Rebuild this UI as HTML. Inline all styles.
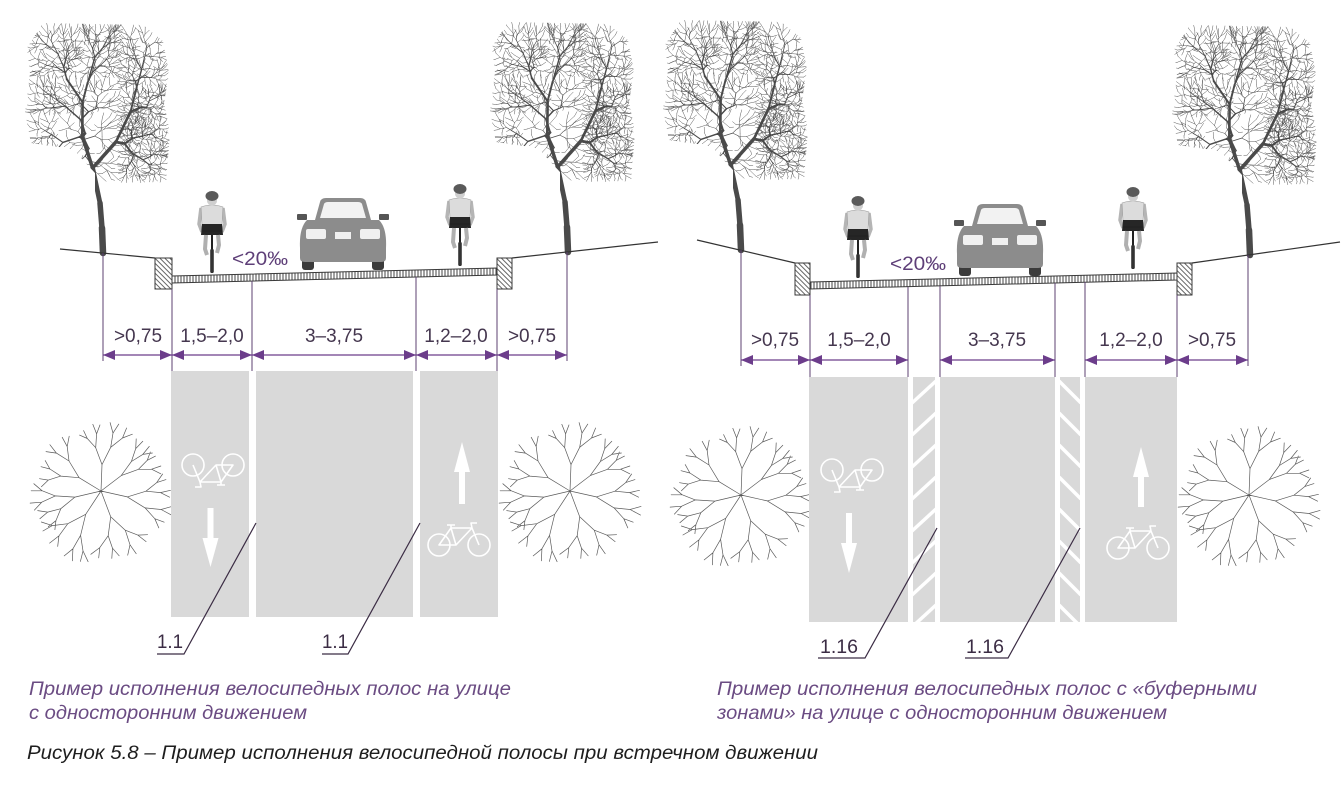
<!DOCTYPE html>
<html><head><meta charset="utf-8">
<style>
html,body{margin:0;padding:0;background:#fff;}
svg{display:block;}
.dim{font-family:"Liberation Sans",sans-serif;font-size:19px;fill:#45374f;}
.pct{font-family:"Liberation Sans",sans-serif;font-size:19px;fill:#5e3f78;}
.lbl{font-family:"Liberation Sans",sans-serif;font-size:19px;fill:#3b2c44;}
.cap{font-family:"Liberation Sans",sans-serif;font-style:italic;font-size:19px;fill:#6b4c83;}
.fig{font-family:"Liberation Sans",sans-serif;font-style:italic;font-size:19px;fill:#1e1e1e;}
</style></head><body>
<svg width="1341" height="793" viewBox="0 0 1341 793" xmlns="http://www.w3.org/2000/svg">
<defs>
<pattern id="ticks" patternUnits="userSpaceOnUse" width="3" height="10"><rect width="3" height="10" fill="#fff"/><line x1="1" y1="0" x2="1" y2="10" stroke="#444" stroke-width="1"/></pattern>
<pattern id="hatch" patternUnits="userSpaceOnUse" width="3.5" height="3.5" patternTransform="rotate(-45)"><rect width="3.5" height="3.5" fill="#fff"/><line x1="0.5" y1="0" x2="0.5" y2="3.5" stroke="#555" stroke-width="0.9"/></pattern>
<clipPath id="tc"><polygon points="-60,-230 40,-228 60,-212 66,-180 61,-150 67,-120 63,-70 30,-68 6,-60 6,10 -8,10 -8,-80 -30,-104 -72,-110 -78,-140 -73,-180 -76,-205"/></clipPath>
<g id="tree" clip-path="url(#tc)" fill="none" stroke="#4a4a4a" stroke-linecap="round"></g>
<g id="ptree" fill="none" stroke="#5a5a5a" stroke-width="0.7" stroke-linecap="round"></g>
<g id="bike" fill="none" stroke="#fff" stroke-width="1.6" stroke-linejoin="round">
<circle cx="0" cy="0" r="11"/><circle cx="40" cy="0" r="11"/>
<path d="M0 0 L17 0 L12 -17 Z M12 -17 L33 -17 L17 0 M33 -17 L40 0 M8 -20 L16 -20 M12 -17 L12 -20 M33 -17 L32 -22 L38 -22"/>
</g>
<g id="car">
<path d="M-28 22 L-23 4 Q-22 0 -17 0 L17 0 Q22 0 23 4 L28 22 Z" fill="#8c8c8c"/>
<path d="M-23 20 L-19 6 Q-18 4 -15 4 L15 4 Q18 4 19 6 L23 20 Z" fill="#f2f2f2"/>
<rect x="-46" y="16" width="10" height="6" rx="1" fill="#555"/>
<rect x="36" y="16" width="10" height="6" rx="1" fill="#555"/>
<rect x="-41" y="47" width="12" height="25" rx="3" fill="#3b3b3b"/>
<rect x="29" y="47" width="12" height="25" rx="3" fill="#3b3b3b"/>
<path d="M-43 50 Q-44 30 -36 22 L36 22 Q44 30 43 50 L43 60 Q43 64 38 64 L-38 64 Q-43 64 -43 60 Z" fill="#8c8c8c"/>
<rect x="-37" y="31" width="20" height="10" rx="2" fill="#f0f0f0"/>
<rect x="17" y="31" width="20" height="10" rx="2" fill="#f0f0f0"/>
<rect x="-8" y="34" width="16" height="7" fill="#f0f0f0"/>
</g>
<g id="cyc">
<line x1="0" y1="38" x2="0" y2="82" stroke="#222" stroke-width="2"/>
<rect x="-1.8" y="58" width="3.6" height="24" rx="1.5" fill="#333"/>
<path d="M-11 17 L-13 33 L-10 41" stroke="#b5b5b5" stroke-width="3.5" fill="none"/>
<path d="M11 17 L13 33 L10 41" stroke="#b5b5b5" stroke-width="3.5" fill="none"/>
<path d="M-11 16 Q0 12 11 16 L10 34 L-10 34 Z" fill="#dcdcdc" stroke="#9a9a9a" stroke-width="0.6"/>
<path d="M-10 33 L10 33 L11 44 L-11 44 Z" fill="#262626"/>
<path d="M-6 44 L-7 58 L-5 64" stroke="#b0b0b0" stroke-width="4" fill="none"/>
<path d="M6 44 L7 54 L5 62" stroke="#b0b0b0" stroke-width="4" fill="none"/>
<line x1="-10" y1="40" x2="10" y2="40" stroke="#222" stroke-width="1.5"/>
<ellipse cx="0" cy="10" rx="5" ry="4.5" fill="#cfcfcf"/>
<ellipse cx="0" cy="5" rx="6.5" ry="5" fill="#5a5a5a"/>
</g>
</defs>

<!-- ===== LEFT DIAGRAM ===== -->
<use href="#tree" transform="translate(103,253)"/>
<use href="#tree" transform="translate(568,252)"/>
<polyline points="60,249 155,258" fill="none" stroke="#333" stroke-width="1.2"/>
<polyline points="512,258 658,242" fill="none" stroke="#333" stroke-width="1.2"/>
<rect x="155" y="258" width="17" height="31" fill="url(#hatch)" stroke="#3a3a3a" stroke-width="1"/>
<rect x="497" y="258" width="15" height="31" fill="url(#hatch)" stroke="#3a3a3a" stroke-width="1"/>
<polygon points="172,276 497,268 497,275 172,283" fill="url(#ticks)" stroke="#3a3a3a" stroke-width="1"/>
<use href="#car" transform="translate(343,198)"/>
<use href="#cyc" transform="translate(212,191)"/>
<use href="#cyc" transform="translate(460,184)"/>
<text class="pct" x="232" y="265" textLength="56" lengthAdjust="spacingAndGlyphs">&lt;20‰</text>

<g stroke="#5c4070" stroke-width="1">
<line x1="103" y1="253" x2="103" y2="361"/>
<line x1="172" y1="289" x2="172" y2="371"/>
<line x1="252" y1="281" x2="252" y2="371"/>
<line x1="416" y1="277" x2="416" y2="371"/>
<line x1="497" y1="289" x2="497" y2="371"/>
<line x1="567" y1="252" x2="567" y2="361"/>
<line x1="103" y1="355" x2="567" y2="355" stroke="#6c3d8b" stroke-width="1.2"/>
</g>
<g fill="#6c3d8b">
<polygon points="103,355 115,350 115,360"/><polygon points="172,355 160,350 160,360"/>
<polygon points="172,355 184,350 184,360"/><polygon points="252,355 240,350 240,360"/>
<polygon points="252,355 264,350 264,360"/><polygon points="416,355 404,350 404,360"/>
<polygon points="416,355 428,350 428,360"/><polygon points="497,355 485,350 485,360"/>
<polygon points="497,355 509,350 509,360"/><polygon points="567,355 555,350 555,360"/>
</g>
<g class="dim" text-anchor="middle">
<text x="138" y="342">&gt;0,75</text>
<text x="212" y="342">1,5–2,0</text>
<text x="334" y="342">3–3,75</text>
<text x="456" y="342">1,2–2,0</text>
<text x="532" y="342">&gt;0,75</text>
</g>

<use href="#ptree" transform="translate(101,491)"/>
<use href="#ptree" transform="translate(570,491)"/>
<g fill="#d9d9d9">
<rect x="171" y="371" width="78" height="246"/>
<rect x="256" y="371" width="157" height="246"/>
<rect x="420" y="371" width="78" height="246"/>
</g>
<use href="#bike" transform="translate(233,465) rotate(180)"/>
<use href="#bike" transform="translate(439,545)"/>
<g fill="#fff">
<polygon points="207.5,508 213.5,508 213.5,538 218.5,538 210.5,567 202.5,538 207.5,538"/>
<polygon points="462,442 470,472 465,472 465,504 459,504 459,472 454,472"/>
</g>
<g stroke="#3b2c44" stroke-width="1.2" fill="none">
<polyline points="157,654 184,654 256,523"/>
<polyline points="322,654 348,654 420,523"/>
</g>
<text class="lbl" x="157" y="648" textLength="26" lengthAdjust="spacingAndGlyphs">1.1</text>
<text class="lbl" x="322" y="648" textLength="26" lengthAdjust="spacingAndGlyphs">1.1</text>

<!-- ===== RIGHT DIAGRAM ===== -->
<use href="#tree" transform="translate(741,250)"/>
<use href="#tree" transform="translate(1250,255)"/>
<polyline points="697,240 795,263" fill="none" stroke="#333" stroke-width="1.2"/>
<polyline points="1192,263 1340,242" fill="none" stroke="#333" stroke-width="1.2"/>
<rect x="795" y="263" width="15" height="32" fill="url(#hatch)" stroke="#3a3a3a" stroke-width="1"/>
<rect x="1177" y="263" width="15" height="32" fill="url(#hatch)" stroke="#3a3a3a" stroke-width="1"/>
<polygon points="810,282 1177,273 1177,280 810,289" fill="url(#ticks)" stroke="#3a3a3a" stroke-width="1"/>
<use href="#car" transform="translate(1000,204)"/>
<use href="#cyc" transform="translate(858,196)"/>
<use href="#cyc" transform="translate(1133,187)"/>
<text class="pct" x="890" y="270" textLength="56" lengthAdjust="spacingAndGlyphs">&lt;20‰</text>

<g stroke="#5c4070" stroke-width="1">
<line x1="741" y1="250" x2="741" y2="366"/>
<line x1="810" y1="295" x2="810" y2="377"/>
<line x1="908" y1="287" x2="908" y2="377"/>
<line x1="940" y1="286" x2="940" y2="377"/>
<line x1="1055" y1="283" x2="1055" y2="377"/>
<line x1="1085" y1="282" x2="1085" y2="377"/>
<line x1="1177" y1="295" x2="1177" y2="377"/>
<line x1="1248" y1="255" x2="1248" y2="366"/>
</g>
<g stroke="#6c3d8b" stroke-width="1.2">
<line x1="741" y1="360" x2="908" y2="360"/>
<line x1="940" y1="360" x2="1055" y2="360"/>
<line x1="1085" y1="360" x2="1248" y2="360"/>
</g>
<g fill="#6c3d8b">
<polygon points="741,360 753,355 753,365"/><polygon points="810,360 798,355 798,365"/>
<polygon points="810,360 822,355 822,365"/><polygon points="908,360 896,355 896,365"/>
<polygon points="940,360 952,355 952,365"/><polygon points="1055,360 1043,355 1043,365"/>
<polygon points="1085,360 1097,355 1097,365"/><polygon points="1177,360 1165,355 1165,365"/>
<polygon points="1177,360 1189,355 1189,365"/><polygon points="1248,360 1236,355 1236,365"/>
</g>
<g class="dim" text-anchor="middle">
<text x="775" y="346">&gt;0,75</text>
<text x="859" y="346">1,5–2,0</text>
<text x="997" y="346">3–3,75</text>
<text x="1131" y="346">1,2–2,0</text>
<text x="1212" y="346">&gt;0,75</text>
</g>

<use href="#ptree" transform="translate(741,495)"/>
<use href="#ptree" transform="translate(1249,495)"/>
<g fill="#d9d9d9">
<rect x="809" y="377" width="99" height="245"/>
<rect x="908" y="377" width="32" height="245"/>
<rect x="940" y="377" width="115" height="245"/>
<rect x="1055" y="377" width="30" height="245"/>
<rect x="1085" y="377" width="92" height="245"/>
</g>
<clipPath id="b1"><rect x="908" y="377" width="32" height="245"/></clipPath>
<clipPath id="b2"><rect x="1055" y="377" width="30" height="245"/></clipPath>
<g fill="#fff">
<rect x="908" y="377" width="5" height="245"/>
<rect x="935" y="377" width="5" height="245"/>
<rect x="1055" y="377" width="5" height="245"/>
<rect x="1080" y="377" width="5" height="245"/>
</g>
<g stroke="#fff" stroke-width="3.5" clip-path="url(#b1)">
<line x1="912" y1="403" x2="936" y2="381"/>
<line x1="912" y1="435" x2="936" y2="413"/>
<line x1="912" y1="467" x2="936" y2="445"/>
<line x1="912" y1="499" x2="936" y2="477"/>
<line x1="912" y1="531" x2="936" y2="509"/>
<line x1="912" y1="563" x2="936" y2="541"/>
<line x1="912" y1="595" x2="936" y2="573"/>
<line x1="912" y1="627" x2="936" y2="605"/>
</g>
<g stroke="#fff" stroke-width="3.5" clip-path="url(#b2)">
<line x1="1059" y1="381" x2="1081" y2="403"/>
<line x1="1059" y1="413" x2="1081" y2="435"/>
<line x1="1059" y1="445" x2="1081" y2="467"/>
<line x1="1059" y1="477" x2="1081" y2="499"/>
<line x1="1059" y1="509" x2="1081" y2="531"/>
<line x1="1059" y1="541" x2="1081" y2="563"/>
<line x1="1059" y1="573" x2="1081" y2="595"/>
<line x1="1059" y1="605" x2="1081" y2="627"/>
</g>
<use href="#bike" transform="translate(872,470) rotate(180)"/>
<use href="#bike" transform="translate(1118,548)"/>
<g fill="#fff">
<polygon points="846,513 852,513 852,543 857,543 849,573 841,543 846,543"/>
<polygon points="1141,447 1149,477 1144,477 1144,507 1138,507 1138,477 1133,477"/>
</g>
<g stroke="#3b2c44" stroke-width="1.2" fill="none">
<polyline points="818,658 865,658 937,528"/>
<polyline points="965,658 1008,658 1080,528"/>
</g>
<text class="lbl" x="820" y="653" textLength="38" lengthAdjust="spacingAndGlyphs">1.16</text>
<text class="lbl" x="966" y="653" textLength="38" lengthAdjust="spacingAndGlyphs">1.16</text>

<!-- ===== CAPTIONS ===== -->
<text class="cap" x="29" y="695" textLength="482" lengthAdjust="spacingAndGlyphs">Пример исполнения велосипедных полос на улице</text>
<text class="cap" x="29" y="719" textLength="278" lengthAdjust="spacingAndGlyphs">с односторонним движением</text>
<text class="cap" x="717" y="695" textLength="540" lengthAdjust="spacingAndGlyphs">Пример исполнения велосипедных полос с «буферными</text>
<text class="cap" x="717" y="719" textLength="450" lengthAdjust="spacingAndGlyphs">зонами» на улице с односторонним движением</text>
<text class="fig" x="27" y="759" textLength="791" lengthAdjust="spacingAndGlyphs">Рисунок 5.8 – Пример исполнения велосипедной полосы при встречном движении</text>
</svg>
<script>
(function(){
var s=24681;
function R(){s=(s*16807)%2147483647;return (s-1)/2147483646;}
var W={};
function seg(x1,y1,x2,y2,w){var k=Math.max(0.45,w).toFixed(2);(W[k]=W[k]||[]).push('M'+x1.toFixed(1)+' '+y1.toFixed(1)+'L'+x2.toFixed(1)+' '+y2.toFixed(1));}
function node(x,y,r,w,d,first){
  var wx=r[1]-r[0], hy=r[3]-r[2];
  var cx=(r[0]+r[1])/2+(R()-0.5)*wx*0.45, cy=(r[2]+r[3])/2+(R()-0.5)*hy*0.45;
  var f=d>0?(0.33+R()*0.17):1;
  var x2=x+(cx-x)*f, y2=y+(cy-y)*f;
  seg(x,y,x2,y2,w);
  if(d<=0){
    var dx=x2-x, dy=y2-y, L=Math.sqrt(dx*dx+dy*dy)||1;
    var a=Math.atan2(dy,dx)+(R()-0.5)*0.9;
    seg(x2,y2,x2+4*Math.cos(a),y2+4*Math.sin(a)-1.5,w);
    return;
  }
  var t=0.32+R()*0.36, m;
  if(first||wx>hy*1.1){m=r[0]+wx*t;node(x2,y2,[r[0],m,r[2],r[3]],w*0.74,d-1);node(x2,y2,[m,r[1],r[2],r[3]],w*0.74,d-1);}
  else{m=r[2]+hy*t;node(x2,y2,[r[0],r[1],r[2],m],w*0.74,d-1);node(x2,y2,[r[0],r[1],m,r[3]],w*0.74,d-1);}
}
seg(0,0,-1,-25,6.5);seg(-1,-25,-3,-50,5.5);
node(-3,-50,[-75,65,-228,-72],4.8,10,true);
var h='';for(var k in W)h+='<path d="'+W[k].join('')+'" stroke-width="'+k+'"/>';
document.getElementById('tree').innerHTML=h;
var P=[];
function pb(x,y,a,len,d){var x2=x+len*Math.cos(a),y2=y+len*Math.sin(a);P.push('M'+x.toFixed(1)+' '+y.toFixed(1)+'L'+x2.toFixed(1)+' '+y2.toFixed(1));if(d<=0)return;for(var j=-1;j<=1;j+=2)pb(x2,y2,a+j*(0.28+R()*0.25),len*(0.68+R()*0.1),d-1);}
for(var m=0;m<7;m++)pb(0,0,m*2*Math.PI/7+R()*0.4,24+R()*4,3);
document.getElementById('ptree').innerHTML='<path d="'+P.join('')+'"/>';
})();
</script>
</body></html>
